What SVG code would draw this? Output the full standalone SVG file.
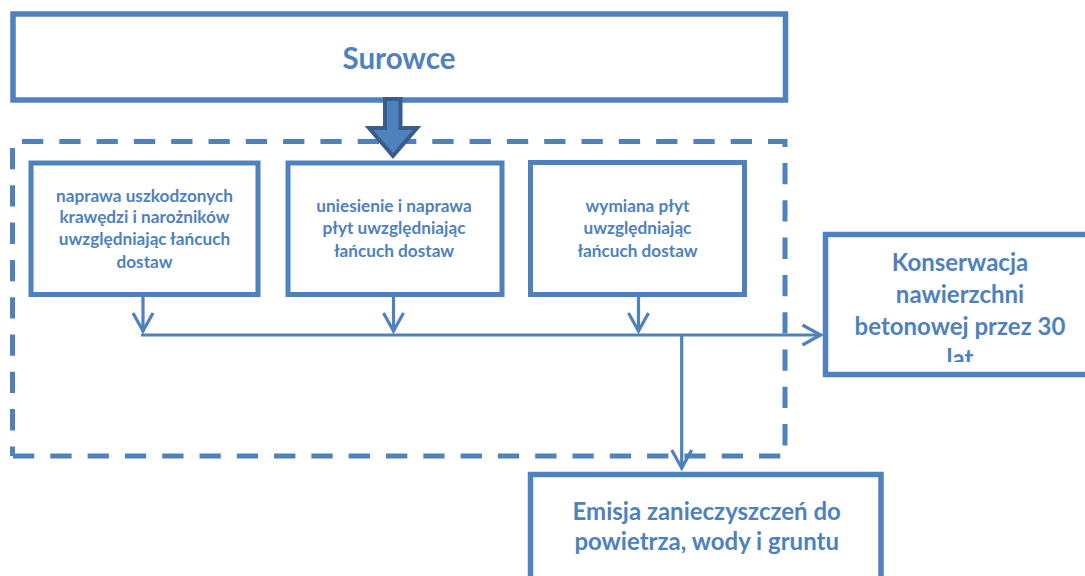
<svg xmlns="http://www.w3.org/2000/svg" width="1085" height="576" viewBox="0 0 1085 576">
<style>
.box{fill:#ffffff;stroke:#4f81bd;stroke-width:5.5}
.ibox{fill:#ffffff;stroke:#4f81bd;stroke-width:5}
.dash{fill:none;stroke:#4f81bd;stroke-width:5;stroke-dasharray:21.3 16}
.ln{fill:none;stroke:#4f81bd;stroke-width:3.2}
.t{font-family:Lato,"Liberation Sans","Noto Sans",sans-serif;font-weight:bold;fill:#4f81bd;text-anchor:middle}
.s{font-size:17.2px}
.m{font-size:24px}
.l{font-size:29.5px}
</style>
<defs>
<marker id="chev" viewBox="-22 -12 24 24" markerWidth="24" markerHeight="24" refX="0" refY="0" markerUnits="userSpaceOnUse" orient="auto">
<path d="M-19,-10 L-1,0 L-19,10" fill="none" stroke="#4f81bd" stroke-width="3.2"/>
</marker>
<clipPath id="kclip"><rect x="828" y="237" width="257" height="125"/></clipPath>
</defs>
<rect width="1085" height="576" fill="#ffffff"/>

<g id="group-frame">
<path class="dash" d="M22 141.5 H787"/>
<path class="dash" d="M785 139 V456" style="stroke-dashoffset:13.3"/>
<path class="dash" d="M13 456 H785"/>
<path class="dash" d="M12.5 148 V456"/>
</g>

<g id="node-surowce">
<rect class="box" x="13" y="14" width="772.5" height="86"/>
<text class="t l" x="399" y="68.5">Surowce</text>
</g>

<g id="node-naprawa">
<rect class="ibox" x="31" y="163" width="227" height="131.5"/>
<text class="t s" x="144.5" y="201.7">naprawa uszkodzonych</text>
<text class="t s" x="144.5" y="223">krawędzi i narożników</text>
<text class="t s" x="144.5" y="245">uwzględniając łańcuch</text>
<text class="t s" x="144.5" y="267.7">dostaw</text>
</g>

<g id="node-uniesienie">
<rect class="ibox" x="288" y="163" width="214" height="131.5"/>
<text class="t s" x="394" y="212.3">uniesienie i naprawa</text>
<text class="t s" x="394" y="234.3">płyt uwzględniając</text>
<text class="t s" x="394" y="256.7">łańcuch dostaw</text>
</g>

<g id="node-wymiana">
<rect class="ibox" x="530.5" y="162.5" width="214" height="132"/>
<text class="t s" x="637.5" y="212.3">wymiana płyt</text>
<text class="t s" x="637.5" y="234.3">uwzględniając</text>
<text class="t s" x="637.5" y="256.7">łańcuch dostaw</text>
</g>

<g id="node-konserwacja">
<rect class="box" x="825.5" y="234.5" width="270" height="140"/>
<g clip-path="url(#kclip)">
<text class="t m" x="960" y="270.7">Konserwacja</text>
<text class="t m" x="960" y="303.3">nawierzchni</text>
<text class="t m" x="960" y="335">betonowej przez 30</text>
<text class="t m" x="960" y="367">lat</text>
</g>
</g>

<g id="node-emisja">
<rect class="box" x="530.5" y="474.5" width="350.5" height="120"/>
<text class="t m" x="706.7" y="520">Emisja zanieczyszczeń do</text>
<text class="t m" x="706.7" y="550">powietrza, wody i gruntu</text>
</g>

<g id="connectors">
<path class="ln" d="M143 297 V332" marker-end="url(#chev)"/>
<path class="ln" d="M393.5 297 V332" marker-end="url(#chev)"/>
<path class="ln" d="M638.5 297 V332" marker-end="url(#chev)"/>
<path class="ln" d="M141 335 H821.5" marker-end="url(#chev)"/>
<path class="ln" d="M681.7 335 V469" marker-end="url(#chev)"/>
<path d="M385 99 H400.5 V128 H417 L393 156 L369 128 H385 Z" fill="#4f81bd" stroke="#385d8a" stroke-width="4" stroke-linejoin="miter"/>
</g>
</svg>
